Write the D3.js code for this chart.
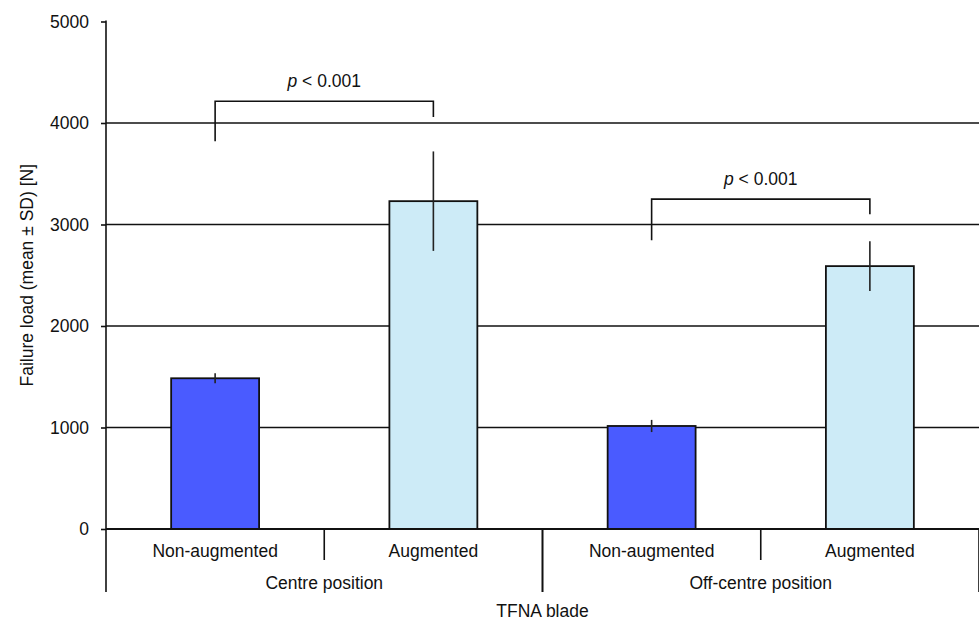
<!DOCTYPE html>
<html><head><meta charset="utf-8">
<script src="https://cdn.jsdelivr.net/npm/d3@7"></script>
<style>
html,body{margin:0;padding:0;background:#fff;}
text{font-family:"Liberation Sans",Arial,sans-serif;fill:#111;}
</style></head>
<body>
<svg id="c" width="979" height="621"></svg>
<script>
const groups = ["Centre position", "Off-centre position"];
const subcats = ["Non-augmented", "Augmented"];
const means = [1485, 3230, 1015, 2590];
const sds = [50, 490, 60, 245];
const colors = ["#4a5bff", "#cdebf7", "#4a5bff", "#cdebf7"];
const yTicks = [0, 1000, 2000, 3000, 4000, 5000];
const brackets = [
  {from: 0, to: 1, top: 4215, leftBottom: 3820, rightBottom: 4060, label: "< 0.001"},
  {from: 2, to: 3, top: 3250, leftBottom: 2845, rightBottom: 3100, label: "< 0.001"}
];
const xTitle = "TFNA blade";
const yTitle = "Failure load (mean \u00b1 SD) [N]";

(function(){
const svg = d3.select("#c");
const L = 106, R = 979, T = 21.5, B = 529;
const fs = 17.5;

const cats = [];
groups.forEach((g, gi) => subcats.forEach((s, si) => cats.push({g, s, key: gi + "-" + si})));

const x = d3.scaleBand().domain(cats.map(c => c.key)).range([L, R]).padding(0);
const xg = d3.scaleBand().domain(groups).range([L, R]).padding(0);
const y = d3.scaleLinear().domain([0, 5000]).range([B, T]);
const bw = x.bandwidth() * 0.403;

// gridlines
svg.append("g").selectAll("line").data(yTicks.filter(t => t > 0 && t < 5000)).join("line")
  .attr("x1", L).attr("x2", R).attr("y1", d => y(d)).attr("y2", d => y(d))
  .attr("stroke", "#111").attr("stroke-width", 1.6);

// y axis
const yAxis = d3.axisLeft(y).tickValues(yTicks).tickSize(5).tickPadding(12).tickFormat(d3.format("d"));
const ga = svg.append("g").attr("transform", `translate(${L},0)`).call(yAxis);
ga.select(".domain").remove();
ga.selectAll(".tick line").attr("stroke", "#111").attr("stroke-width", 1.6);
ga.selectAll(".tick text").attr("font-size", fs).attr("font-family", "Liberation Sans, Arial, sans-serif").attr("fill", "#111");
svg.append("line").attr("x1", L).attr("x2", L).attr("y1", T - 1).attr("y2", 592)
  .attr("stroke", "#111").attr("stroke-width", 1.6);

// bars
svg.append("g").selectAll("rect").data(cats).join("rect")
  .attr("x", d => x(d.key) + x.bandwidth() / 2 - bw / 2)
  .attr("width", bw)
  .attr("y", (d, i) => y(means[i]))
  .attr("height", (d, i) => y(0) - y(means[i]))
  .attr("fill", (d, i) => colors[i])
  .attr("stroke", "#111").attr("stroke-width", 1.8);

// error bars
svg.append("g").selectAll("line").data(cats).join("line")
  .attr("x1", d => x(d.key) + x.bandwidth() / 2).attr("x2", d => x(d.key) + x.bandwidth() / 2)
  .attr("y1", (d, i) => y(means[i] + sds[i])).attr("y2", (d, i) => y(means[i] - sds[i]))
  .attr("stroke", "#222").attr("stroke-width", 1.6);

// x baseline
svg.append("line").attr("x1", L).attr("x2", R).attr("y1", y(0)).attr("y2", y(0))
  .attr("stroke", "#111").attr("stroke-width", 2);

// subcategory dividers
groups.forEach(g => {
  const xm = xg(g) + xg.bandwidth() / 2;
  svg.append("line").attr("x1", xm).attr("x2", xm).attr("y1", y(0)).attr("y2", 560)
    .attr("stroke", "#111").attr("stroke-width", 1.6);
});
// group dividers
groups.forEach(g => {
  [xg(g), xg(g) + xg.bandwidth()].forEach(xx => {
    if (xx <= L) return;
    svg.append("line").attr("x1", xx).attr("x2", xx).attr("y1", y(0)).attr("y2", 592)
      .attr("stroke", "#111").attr("stroke-width", 1.6);
  });
});

// labels
svg.append("g").selectAll("text").data(cats).join("text")
  .attr("x", d => x(d.key) + x.bandwidth() / 2).attr("y", 557)
  .attr("text-anchor", "middle").attr("font-size", fs).text(d => d.s);
svg.append("g").selectAll("text").data(groups).join("text")
  .attr("x", d => xg(d) + xg.bandwidth() / 2).attr("y", 589)
  .attr("text-anchor", "middle").attr("font-size", fs).text(d => d);
svg.append("text").attr("x", (L + R) / 2).attr("y", 616.5)
  .attr("text-anchor", "middle").attr("font-size", fs).text(xTitle);
svg.append("text").attr("transform", `translate(33,${(T + B) / 2}) rotate(-90)`)
  .attr("text-anchor", "middle").attr("font-size", fs).text(yTitle);

// significance brackets
brackets.forEach(b => {
  const x1 = x(cats[b.from].key) + x.bandwidth() / 2;
  const x2 = x(cats[b.to].key) + x.bandwidth() / 2;
  svg.append("path")
    .attr("d", `M${x1},${y(b.leftBottom)}V${y(b.top)}H${x2}V${y(b.rightBottom)}`)
    .attr("fill", "none").attr("stroke", "#111").attr("stroke-width", 1.6);
  const t = svg.append("text").attr("x", (x1 + x2) / 2).attr("y", y(b.top) - 14)
    .attr("text-anchor", "middle").attr("font-size", fs);
  t.append("tspan").attr("font-style", "italic").text("p");
  t.append("tspan").text(" " + b.label);
});
})();
</script>
</body></html>
